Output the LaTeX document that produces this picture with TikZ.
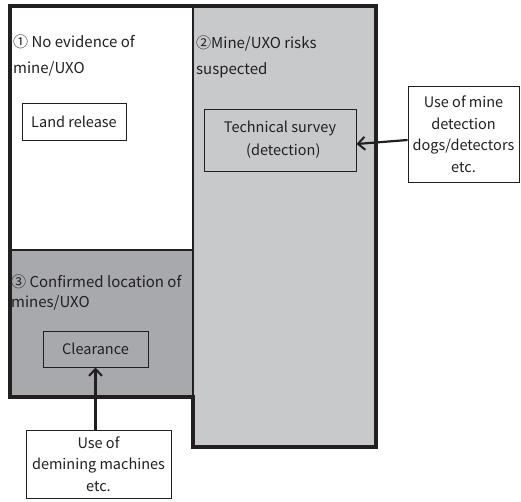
\documentclass[tikz,border=0pt]{standalone}
\usepackage{fontspec}
\setmainfont{Noto Sans CJK JP}
\usetikzlibrary{arrows.meta}
\definecolor{lightzone}{HTML}{C8C9CB}
\definecolor{darkzone}{HTML}{A7A9AC}
\definecolor{inkline}{HTML}{231F20}
\begin{document}
\begin{tikzpicture}[x=1pt,y=-1pt,
  zonelabel/.style={anchor=north west,align=left,inner sep=0pt,text=inkline,font=\fontsize{15}{26}\selectfont},
  taskbox/.style={draw=inkline,line width=0.9pt,inner sep=0pt,align=center,text=inkline,font=\fontsize{14.5}{23}\selectfont},
  toolbox/.style={draw=inkline,fill=white,line width=0.9pt,inner sep=0pt,align=center,text=inkline,font=\fontsize{14.5}{21.5}\selectfont},
  pointer/.style={draw=inkline,line width=2.2pt,-{Straight Barb[length=7pt,width=13pt,line width=2pt]}}]
% canvas
\useasboundingbox (0,0) rectangle (521,501);
\fill[white] (0,0) rectangle (521,501);
% the three zones
\fill[white] (10,6) rectangle (193,250);
\fill[darkzone] (10,250) rectangle (193,397);
\fill[lightzone] (193,6) rectangle (376,447);
% inner dividers
\draw[inkline,line width=2pt] (193,6) -- (193,397);
\draw[inkline,line width=2pt] (10,250) -- (193,250);
% heavy outline of the whole area
\draw[inkline,line width=4pt,line join=miter] (10,6) -- (376,6) -- (376,447) -- (193,447) -- (193,397) -- (10,397) -- cycle;
% zone captions
\node[zonelabel] (z1) at (13,35) {① No evidence of\\mine/UXO};
\node[zonelabel] (z2) at (196,36) {②Mine/UXO risks\\suspected};
\node[zonelabel,font=\fontsize{15}{20}\selectfont] (z3) at (11,275) {③ Confirmed location of\\mines/UXO};
% tasks in each zone
\node[taskbox,fill=white,minimum width=104pt,minimum height=37pt] (land) at (74,121.5) {Land release};
\node[taskbox,fill=lightzone,minimum width=152pt,minimum height=62pt] (tech) at (280,140) {Technical survey\\\ \ (detection)};
\node[taskbox,fill=darkzone,minimum width=105pt,minimum height=36pt] (clear) at (95.5,349) {Clearance};
% tools
\node[toolbox,minimum width=111pt,minimum height=96pt] (dogs) at (463.5,134) {Use of mine\\detection\\dogs/detectors\\etc.};
\node[toolbox,minimum width=145pt,minimum height=68pt] (mach) at (98.5,464) {Use of\\demining machines\\etc.};
% arrows from tools to tasks
\draw[pointer] ([yshift=-6pt]dogs.west) -- ([yshift=-4pt]tech.east);
\draw[pointer] (mach.north -| clear.south) -- (clear.south);
\end{tikzpicture}
\end{document}
